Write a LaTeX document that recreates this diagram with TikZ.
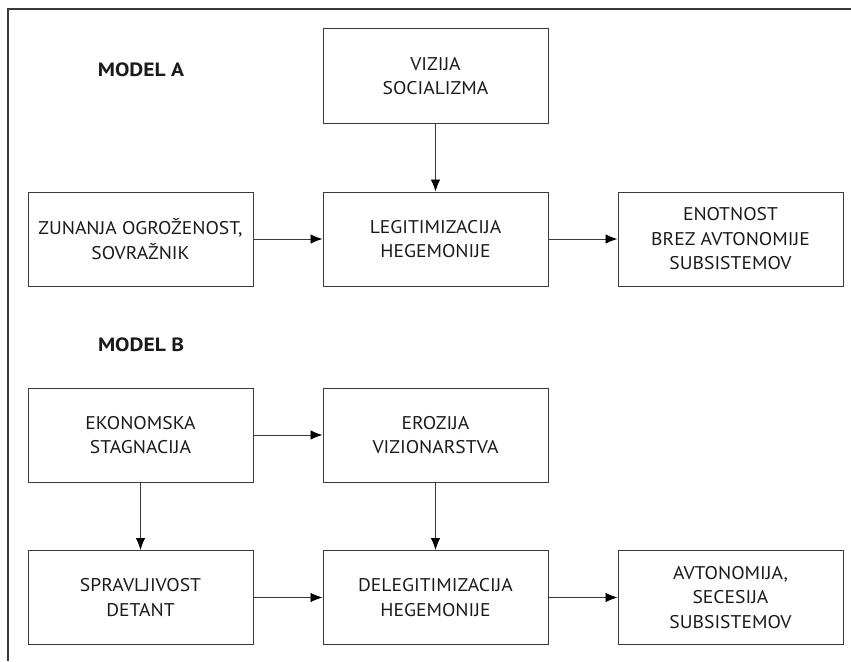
\documentclass[tikz,border=0pt]{standalone}
\usepackage{fontspec}
\setmainfont{PT Sans}
\newfontfamily\boxfont{PT Sans}[FakeStretch=1.065]
\newfontfamily\titlefont{PT Sans Bold}[FakeStretch=1.12]
\usetikzlibrary{arrows.meta}
\definecolor{linegray}{HTML}{3A3A3A}
\definecolor{txtgray}{HTML}{1A1A1A}
\tikzset{
  x=1pt, y=-1pt,
  box/.style={draw=linegray, line width=1pt, minimum width=225pt, minimum height=94pt,
    inner sep=0pt, align=center, text=txtgray, font=\boxfont\fontsize{18.4}{24.5}\selectfont},
  conn/.style={draw=linegray, line width=0.9pt, -{Latex[length=12pt,width=9.5pt,black]}},
  title/.style={font=\titlefont\fontsize{19.2}{24}\selectfont, text=txtgray},
}
\begin{document}
\begin{tikzpicture}
\useasboundingbox (0,0) rectangle (851,661);
\draw[linegray, line width=1.2pt] (8,661) -- (8,9) -- (851,9);
\node[title] (ma) at (141,70) {MODEL A};
\node[title] (mb) at (141,345) {MODEL B};
% Model A
\node[box] (viz) at (435.5,76) {VIZIJA\\SOCIALIZMA};
\node[box] (zun) at (140.5,239) {ZUNANJA OGROŽENOST,\\SOVRAŽNIK};
\node[box] (leg) at (435.5,239) {LEGITIMIZACIJA\\HEGEMONIJE};
\node[box] (eno) at (730.5,239) {ENOTNOST\\BREZ AVTONOMIJE\\SUBSISTEMOV};
% Model B
\node[box] (eko) at (140.5,435) {EKONOMSKA\\STAGNACIJA};
\node[box] (ero) at (435.5,435) {EROZIJA\\VIZIONARSTVA};
\node[box] (spr) at (140.5,597.5) {SPRAVLJIVOST\\DETANT};
\node[box] (del) at (435.5,597.5) {DELEGITIMIZACIJA\\HEGEMONIJE};
\node[box] (avt) at (730.5,597.5) {AVTONOMIJA,\\SECESIJA\\SUBSISTEMOV};
\draw[conn] (viz) -- (leg);
\draw[conn] (zun) -- (leg);
\draw[conn] (leg) -- (eno);
\draw[conn] (eko) -- (ero);
\draw[conn] (eko) -- (spr);
\draw[conn] (ero) -- (del);
\draw[conn] (spr) -- (del);
\draw[conn] (del) -- (avt);
\end{tikzpicture}
\end{document}
